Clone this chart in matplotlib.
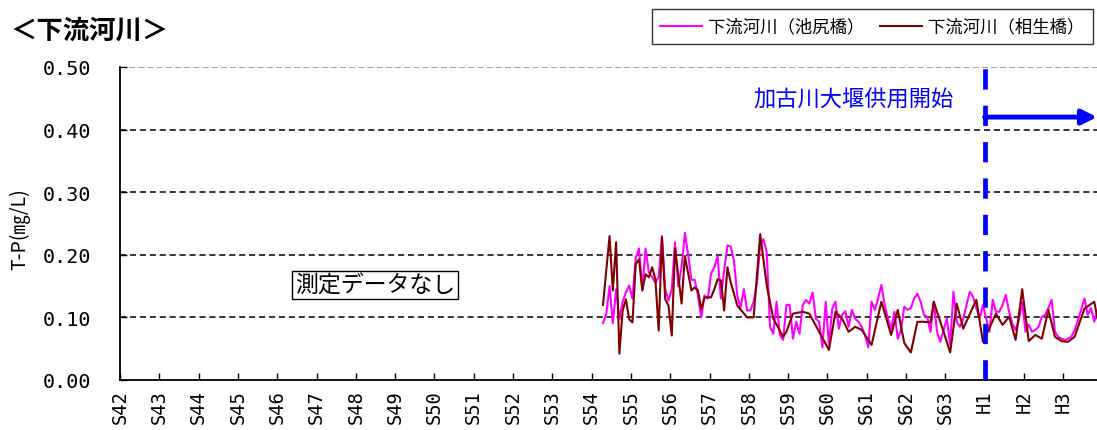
import numpy as np
import matplotlib
matplotlib.use("Agg")
import matplotlib.pyplot as plt

plt.rcParams['font.family'] = ['Noto Sans CJK JP', 'DejaVu Sans']

# x axis categories (fiscal years)
years = ['S42', 'S43', 'S44', 'S45', 'S46', 'S47', 'S48', 'S49', 'S50', 'S51',
         'S52', 'S53', 'S54', 'S55', 'S56', 'S57', 'S58', 'S59', 'S60', 'S61',
         'S62', 'S63', 'H1', 'H2', 'H3']

# monthly series, months counted from first survey month (S54)
ikejiri = [0.091, 0.105, 0.150, 0.091, 0.145, 0.097, 0.125, 0.140, 0.151, 0.130,
           0.195, 0.210, 0.145, 0.210, 0.172, 0.165, 0.155, 0.165, 0.230, 0.145,
           0.127, 0.145, 0.220, 0.150, 0.180, 0.235, 0.200, 0.160, 0.160, 0.135,
           0.100, 0.135, 0.130, 0.170, 0.180, 0.198, 0.130, 0.175, 0.215, 0.213,
           0.190, 0.135, 0.115, 0.145, 0.111, 0.111, 0.125, 0.155, 0.215, 0.225,
           0.204, 0.085, 0.074, 0.125, 0.072, 0.064, 0.120, 0.120, 0.066, 0.093,
           0.074, 0.120, 0.128, 0.122, 0.140, 0.098, 0.093, 0.052, 0.125, 0.056,
           0.114, 0.125, 0.082, 0.104, 0.110, 0.085, 0.112, 0.098, 0.093, 0.085,
           0.072, 0.052, 0.125, 0.112, 0.130, 0.152, 0.120, 0.098, 0.082, 0.109,
           0.066, 0.080, 0.117, 0.112, 0.115, 0.130, 0.138, 0.125, 0.104, 0.101,
           0.077, 0.125, 0.077, 0.061, 0.080, 0.098, 0.056, 0.141, 0.093, 0.085,
           0.098, 0.120, 0.141, 0.133, 0.115, 0.098, 0.120, 0.098, 0.077, 0.128,
           0.109, 0.109, 0.120, 0.136, 0.109, 0.090, 0.080, 0.096, 0.125, 0.077,
           0.088, 0.077, 0.080, 0.085, 0.101, 0.104, 0.115, 0.128, 0.077, 0.069,
           0.066, 0.064, 0.066, 0.069, 0.080, 0.095, 0.112, 0.130, 0.104, 0.115,
           0.093, 0.110]

aioi_month = [0, 2, 3, 4, 5, 6, 7, 8, 9, 10, 11, 12, 13, 14, 15, 16, 17, 18, 19, 20,
              21, 22, 24, 25, 27, 28, 29, 30, 31, 33, 34, 35, 36, 37, 38, 39, 41, 44, 46, 48,
              50, 52, 55, 56, 58, 61, 63, 66, 69, 71, 73, 75, 77, 79, 82, 85, 88, 90, 92, 94,
              96, 98, 100, 101, 104, 106, 108, 110, 113, 114, 116, 117, 120, 122, 124, 126, 128, 130, 132, 134,
              136, 138, 140, 142, 144, 147, 150, 151]
aioi = [0.120, 0.230, 0.143, 0.220, 0.042, 0.111, 0.129, 0.097, 0.092, 0.185,
        0.193, 0.143, 0.169, 0.164, 0.180, 0.161, 0.079, 0.228, 0.129, 0.119,
        0.071, 0.210, 0.122, 0.198, 0.143, 0.148, 0.143, 0.113, 0.132, 0.132,
        0.145, 0.161, 0.159, 0.111, 0.180, 0.156, 0.119, 0.100, 0.100, 0.233,
        0.151, 0.098, 0.069, 0.077, 0.106, 0.109, 0.106, 0.077, 0.048, 0.109,
        0.098, 0.077, 0.085, 0.080, 0.056, 0.125, 0.072, 0.112, 0.059, 0.044,
        0.093, 0.093, 0.092, 0.125, 0.077, 0.044, 0.122, 0.082, 0.117, 0.128,
        0.061, 0.072, 0.106, 0.088, 0.101, 0.064, 0.145, 0.062, 0.072, 0.066,
        0.112, 0.069, 0.062, 0.061, 0.069, 0.114, 0.125, 0.098]

START = 12.29  # first survey month, in years from S42
x_ike = START + np.arange(len(ikejiri)) / 12
x_aioi = START + np.array(aioi_month) / 12

fig = plt.figure(figsize=(10.97, 4.31), dpi=100)
ax = fig.add_axes([120 / 1097, 1 - 381 / 431, 1 - 120 / 1097, 313 / 431])

ln1, = ax.plot(x_ike, ikejiri, color='#ff00ff', lw=1.5, label='下流河川（池尻橋）')
ln2, = ax.plot(x_aioi, aioi, color='#800000', lw=1.5, label='下流河川（相生橋）')

# grid
for v in [0.1, 0.2, 0.3, 0.4]:
    ax.axhline(v, color='black', lw=1.1, dashes=(4, 2.5), zorder=0)
ax.axhline(0.5, color='#888888', lw=1.1, dashes=(4, 2), zorder=0)

ax.set_xlim(0, 977 / 39.3)
ax.set_ylim(0, 0.5)
ax.set_xticks(range(len(years)))
ax.set_xticklabels(years, rotation=90, family='DejaVu Sans Mono', fontsize=13.5)
ax.set_yticks([0, 0.1, 0.2, 0.3, 0.4, 0.5])
ax.set_yticklabels(['%.2f' % v for v in [0, 0.1, 0.2, 0.3, 0.4, 0.5]],
                   family='DejaVu Sans Mono', fontsize=14.5)
ax.tick_params(axis='x', direction='in', length=5, pad=7, width=1)
ax.tick_params(axis='y', direction='in', length=5, pad=21, width=1)
ax.spines['top'].set_visible(False)
ax.spines['right'].set_visible(False)
ax.spines['left'].set_linewidth(1.3)
ax.spines['bottom'].set_linewidth(1.3)

fig.text(20 / 1097, 1 - 229 / 431, 'T-P(㎎/L)', fontsize=14, rotation=90,
         ha='center', va='center')

# no data note
ax.text(4.45, 0.152, '測定データなし', fontsize=16.5, ha='left', va='center',
        bbox=dict(boxstyle='square,pad=0.12', fc='white', ec='black', lw=1))

# weir start marker
ax.axvline(22, color='blue', lw=3.4, dashes=(4.3, 3.4), solid_capstyle='butt',
           clip_on=False, zorder=3)
ax.annotate('', xy=(977 / 39.3, 0.42), xytext=(22, 0.42),
            arrowprops=dict(arrowstyle='-|>', color='blue', lw=3.5,
                            mutation_scale=22, shrinkA=0, shrinkB=0))
ax.text(21.2, 0.449, '加古川大堰供用開始', color='blue', fontsize=16,
        ha='right', va='center')

fig.text(10 / 1097, 1 - 31 / 431, '＜下流河川＞', fontsize=19, fontweight='bold',
         ha='left', va='center')

leg = fig.legend(handles=[ln1, ln2], loc='upper right', ncol=2,
                 bbox_to_anchor=(1093 / 1097, 1 - 10 / 431), fontsize=12.5,
                 frameon=True, fancybox=False, edgecolor='black',
                 handlelength=2.4, handletextpad=0.35, columnspacing=0.9,
                 borderpad=0.5, borderaxespad=0)
leg.get_frame().set_linewidth(1)

fig.savefig('out.png', dpi=100)
